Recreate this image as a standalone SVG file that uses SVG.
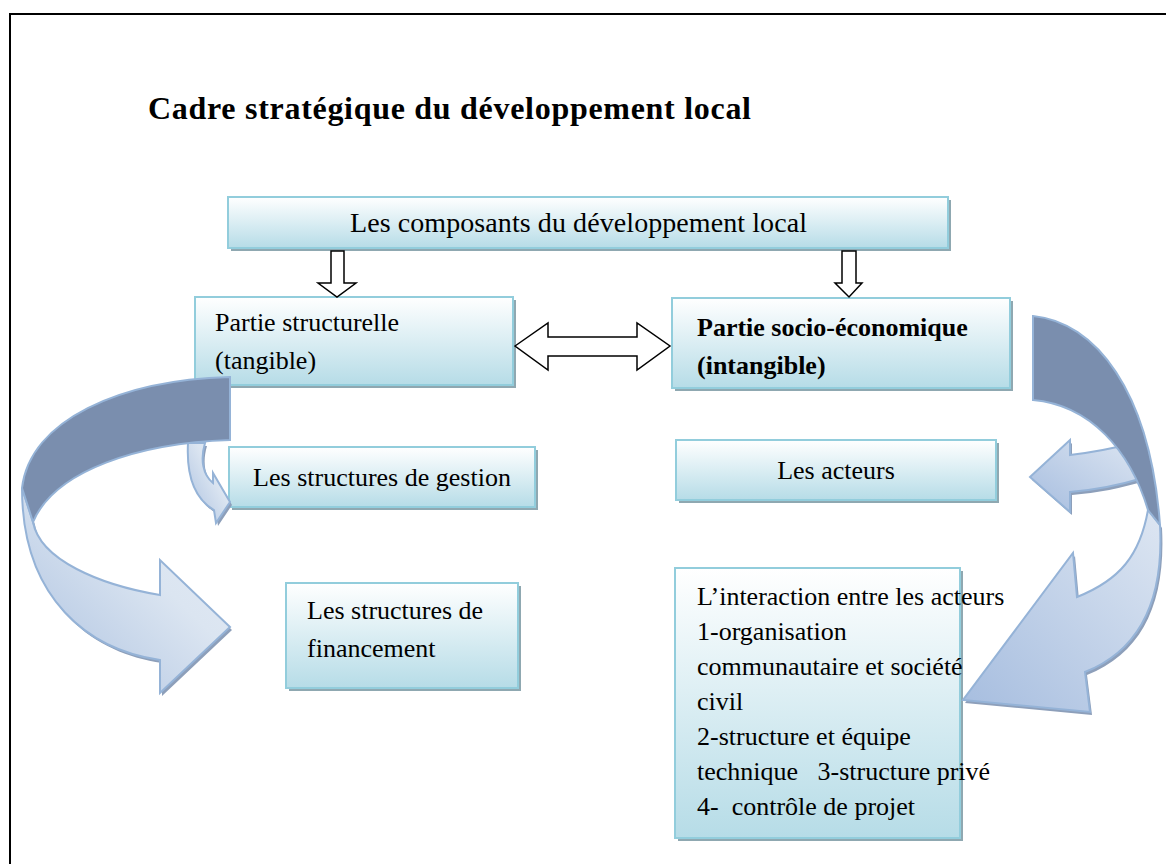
<svg xmlns="http://www.w3.org/2000/svg" width="1166" height="864" viewBox="0 0 1166 864">
<defs>
<linearGradient id="boxg" x1="0" y1="0" x2="0" y2="1">
<stop offset="0" stop-color="#ffffff"/>
<stop offset="1" stop-color="#b6dce7"/>
</linearGradient>
<linearGradient id="arrg" x1="0" y1="1" x2="1" y2="0">
<stop offset="0" stop-color="#a9bfdf"/>
<stop offset="0.6" stop-color="#dbe5f1"/>
<stop offset="1" stop-color="#e4ebf5"/>
</linearGradient>
<linearGradient id="arrgr" x1="1" y1="0" x2="0" y2="1">
<stop offset="0" stop-color="#dde6f2"/>
<stop offset="1" stop-color="#a6bddf"/>
</linearGradient>
<style>
.box{fill:url(#boxg);stroke:#92cddc;stroke-width:2}
.shadow{fill:#8fa8b1}
text{font-family:'Liberation Serif','Times New Roman',serif;font-size:26px;fill:#000}
.b{font-weight:bold}
.blk{fill:#fff;stroke:#000;stroke-width:1.5}
.dark{fill:#7a8eae;stroke:#95b3d7;stroke-width:2}
.light{stroke:#95b3d7;stroke-width:2}
.ash{fill:#8d9fba}
</style>
</defs>
<rect x="0" y="0" width="1166" height="864" fill="#fff"/>
<rect x="10" y="14" width="1170" height="870" fill="none" stroke="#000" stroke-width="2"/>
<text class="b" x="148" y="119" style="font-size:32px" textLength="603" lengthAdjust="spacing">Cadre stratégique du développement local</text>

<g id="n-composants">
<rect class="shadow" x="231" y="200" width="720" height="51"/>
<rect class="box" x="228" y="197" width="720" height="51"/>
<text x="350" y="232" style="font-size:28px" textLength="457" lengthAdjust="spacing">Les composants du développement local</text>
</g>
<g id="n-structurelle">
<rect class="shadow" x="198" y="300" width="318" height="88"/>
<rect class="box" x="195" y="297" width="318" height="88"/>
<text x="215" y="331">Partie structurelle</text>
<text x="215" y="369">(tangible)</text>
</g>
<g id="n-socio">
<rect class="shadow" x="675" y="301" width="338" height="90"/>
<rect class="box" x="672" y="298" width="338" height="90"/>
<text class="b" x="697" y="336">Partie socio-économique</text>
<text class="b" x="697" y="374">(intangible)</text>
</g>
<g id="n-gestion">
<rect class="shadow" x="232" y="450" width="306" height="60"/>
<rect class="box" x="229" y="447" width="306" height="60"/>
<text x="382" y="486" text-anchor="middle">Les structures de gestion</text>
</g>
<g id="n-acteurs">
<rect class="shadow" x="679" y="443" width="320" height="60"/>
<rect class="box" x="676" y="440" width="320" height="60"/>
<text x="836" y="479" text-anchor="middle">Les acteurs</text>
</g>
<g id="n-financement">
<rect class="shadow" x="289" y="586" width="232" height="105"/>
<rect class="box" x="286" y="583" width="232" height="105"/>
<text x="307" y="619">Les structures de</text>
<text x="307" y="657">financement</text>
</g>
<g id="n-interaction">
<rect class="shadow" x="678" y="571" width="285" height="270"/>
<rect class="box" x="675" y="568" width="285" height="270"/>
<text x="697" y="605">L’interaction entre les acteurs</text>
<text x="697" y="640">1-organisation</text>
<text x="697" y="675">communautaire et société</text>
<text x="697" y="710">civil</text>
<text x="697" y="745">2-structure et équipe</text>
<text x="697" y="780" xml:space="preserve">technique   3-structure privé</text>
<text x="697" y="815" xml:space="preserve">4-  contrôle de projet</text>
</g>

<g id="connectors">
<path class="blk" d="M331,251 H344 V283 H356 L337,297 L318,283 H331 Z"/>
<path class="blk" d="M842,251 H856 V283 H862 L849,297 L835,283 H842 Z"/>
<path class="blk" d="M515,346 L548,323 V337 H637 V323 L670,346 L637,370 V356 H548 V370 Z"/>
</g>

<g id="curve-left">
<path class="ash" transform="translate(2,3)" d="M188,443 L205,443 C200,460 203,475 213,483 L213,473 L230,502 L216,523 L214,510 C197,500 186,480 188,443 Z"/>
<path class="light" fill="url(#arrg)" d="M188,443 L205,443 C200,460 203,475 213,483 L213,473 L230,502 L216,523 L214,510 C197,500 186,480 188,443 Z"/>
<path class="ash" transform="translate(2,3)" d="M22,488 C22,600 90,650 160,660 L160,693 L230,627 L160,560 L160,595 C100,585 40,560 33,522 Z"/>
<path class="light" fill="url(#arrg)" d="M22,488 C22,600 90,650 160,660 L160,693 L230,627 L160,560 L160,595 C100,585 40,560 33,522 Z"/>
<path class="dark" d="M230,377 L230,440 C140,443 55,470 33,522 L22,488 C30,420 120,380 230,377 Z"/>
</g>

<g id="curve-right">
<path class="ash" transform="translate(2,3)" d="M1030,477 L1070,440 L1070,455 C1095,452 1115,448 1133,443 L1143,478 C1120,485 1095,490 1070,492 L1070,512 Z"/>
<path class="light" fill="url(#arrgr)" d="M1030,477 L1070,440 L1070,455 C1095,452 1115,448 1133,443 L1143,478 C1120,485 1095,490 1070,492 L1070,512 Z"/>
<path class="ash" transform="translate(2,3)" d="M1160,525 C1164,600 1140,650 1085,672 L1090,712 L963,700 L1073,553 L1077,597 C1120,580 1140,555 1148,510 Z"/>
<path class="light" fill="url(#arrgr)" d="M1160,525 C1164,600 1140,650 1085,672 L1090,712 L963,700 L1073,553 L1077,597 C1120,580 1140,555 1148,510 Z"/>
<path class="dark" d="M1033,316 C1095,322 1150,390 1160,525 L1148,510 C1130,450 1090,405 1033,400 Z"/>
</g>
</svg>
